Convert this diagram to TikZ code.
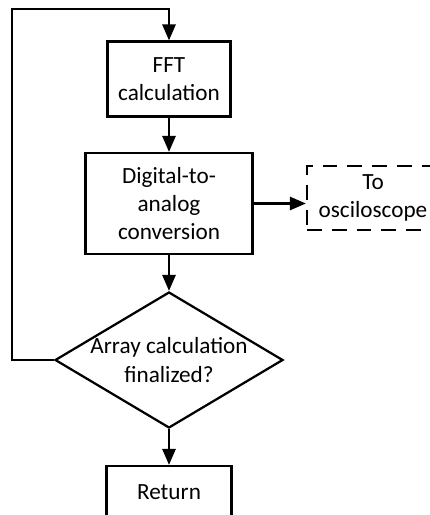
\documentclass[tikz,border=0pt]{standalone}
\usepackage{fontspec}
\setmainfont{Carlito}
\usetikzlibrary{arrows.meta,shapes.geometric}

\tikzset{
  blockbox/.style={draw, line width=1.6pt, align=center, inner sep=0pt},
  pointer/.style={line width=1.6pt, -{Triangle[length=0.4cm,width=0.33cm]}}
}

\begin{document}
\begin{tikzpicture}[font=\fontsize{16.5}{20}\selectfont]
\useasboundingbox (0,0) rectangle (10.75,-12.875);

\node[blockbox, minimum width=3.075cm, minimum height=1.875cm] (fft) at (4.225,-1.975) {FFT\\calculation};
\node[blockbox, minimum width=4.175cm, minimum height=2.525cm] (dac) at (4.225,-5.0875) {Digital-to-\\analog\\conversion};
\node[blockbox, dash pattern=on 0.37cm off 0.25cm, minimum width=3.3cm, minimum height=1.6cm] (osc) at (9.325,-4.95) {To\\osciloscope};
\node[blockbox, diamond, aspect=1.68, inner sep=-1pt, minimum width=5.7cm, minimum height=3.4cm] (dec) at (4.225,-9.0) {Array calculation\\finalized?};
\node[blockbox, minimum width=3.125cm, minimum height=1.3cm] (ret) at (4.225,-12.3) {Return};

\coordinate (top) at (0.3,-0.225);

\draw[pointer] (fft) -- (dac);
\draw[pointer] (dac.east) -- (dac.east -| osc.west);
\draw[pointer] (dac) -- (dec);
\draw[pointer] (dec) -- (ret);
\draw[pointer] (dec.west) -| (top) -| (fft.north);
\end{tikzpicture}
\end{document}
